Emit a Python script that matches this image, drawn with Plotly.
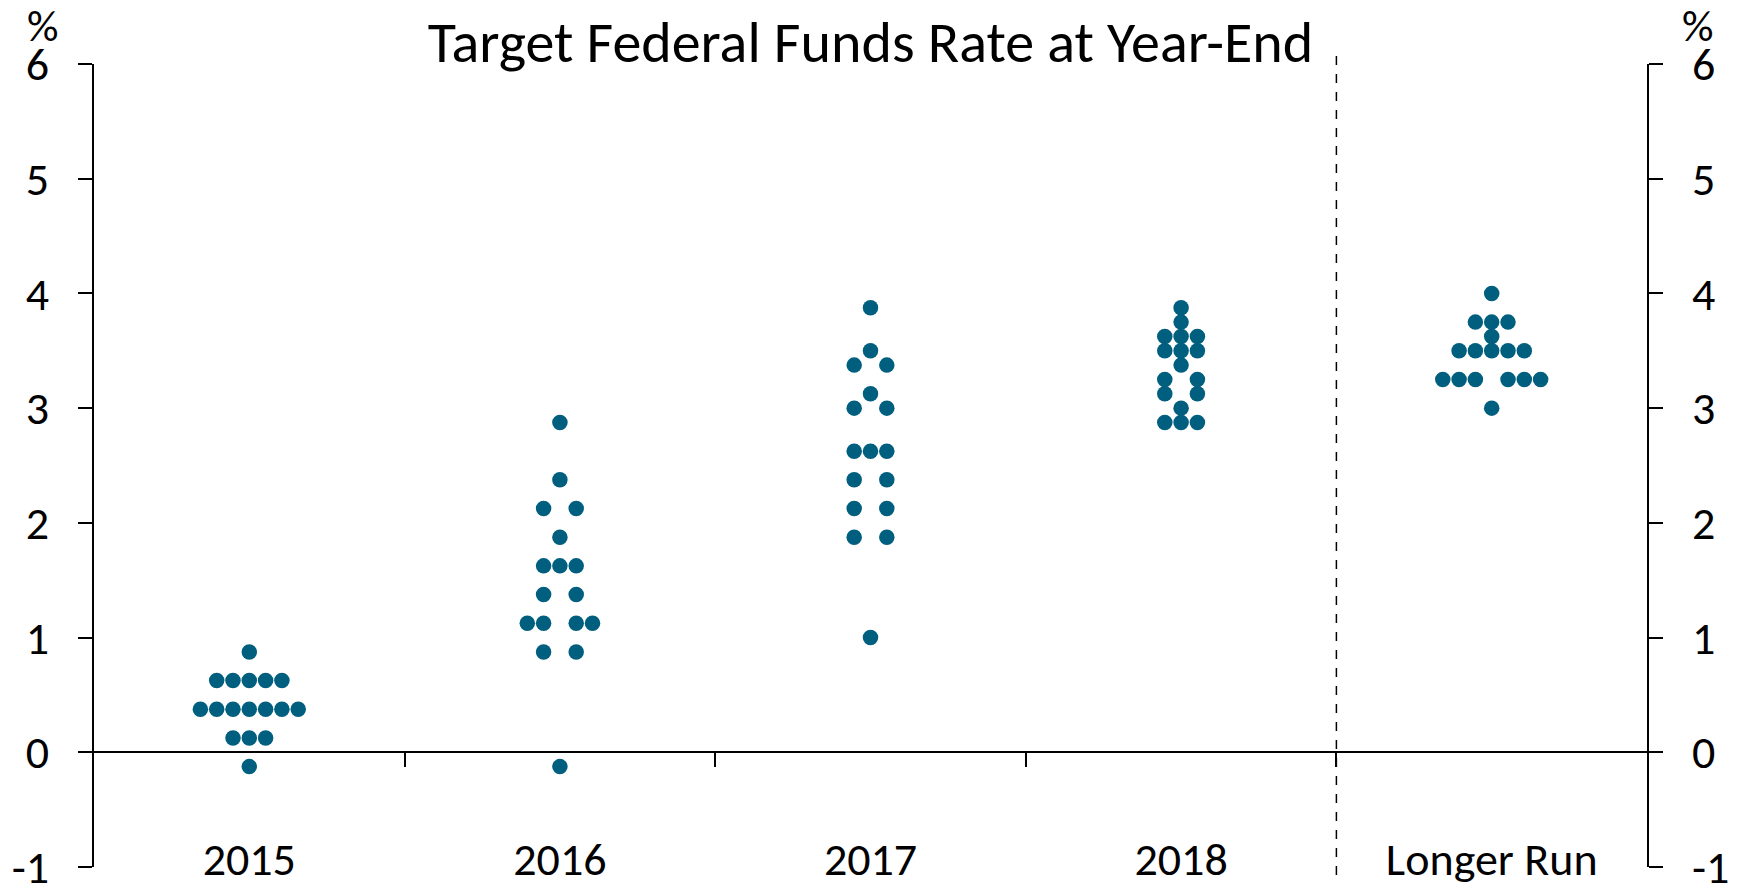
import plotly.graph_objects as go

# SEP dot plot, one dot per participant (17 per column)
categories = ["2015", "2016", "2017", "2018", "Longer Run"]

levels_2015 = [0.875, 0.625, 0.375, 0.125, -0.125]
counts_2015 = [1, 5, 7, 3, 1]

levels_2016 = [2.875, 2.375, 2.125, 1.875, 1.625, 1.375, 1.125, 0.875, -0.125]
counts_2016 = [1, 1, 2, 1, 3, 2, 4, 2, 1]

levels_2017 = [3.875, 3.5, 3.375, 3.125, 3.0, 2.625, 2.375, 2.125, 1.875, 1.0]
counts_2017 = [1, 1, 2, 1, 2, 3, 2, 2, 2, 1]

levels_2018 = [3.875, 3.75, 3.625, 3.5, 3.375, 3.25, 3.125, 3.0, 2.875]
counts_2018 = [1, 1, 3, 3, 1, 2, 2, 1, 3]

levels_lr = [4.0, 3.75, 3.625, 3.5, 3.25, 3.0]
counts_lr = [1, 3, 1, 5, 6, 1]

columns = [(levels_2015, counts_2015), (levels_2016, counts_2016),
           (levels_2017, counts_2017), (levels_2018, counts_2018),
           (levels_lr, counts_lr)]

y_ticks = [-1, 0, 1, 2, 3, 4, 5, 6]
y_labels = ["-1", "0", "1", "2", "3", "4", "5", "6"]

DOT = "#005E7E"
FONT = "Carlito, Calibri, Lato, sans-serif"
STEP = 0.0525  # horizontal gap between dots, in category widths


def slots(n):
    # odd counts are centred, even counts leave the centre slot empty
    if n % 2:
        h = (n - 1) // 2
        return list(range(-h, h + 1))
    h = n // 2
    return list(range(-h, 0)) + list(range(1, h + 1))


xs, ys = [], []
for i, (levels, counts) in enumerate(columns):
    for lv, n in zip(levels, counts):
        for s in slots(n):
            xs.append(i + 0.5 + s * STEP)
            ys.append(lv)

fig = go.Figure()
fig.add_trace(go.Scatter(x=xs, y=ys, mode="markers", xaxis="x", yaxis="y",
                         marker=dict(size=15.5, color=DOT), hoverinfo="y",
                         showlegend=False))
# invisible trace to activate the label axis and right axis
fig.add_trace(go.Scatter(x=[0.5], y=[0], xaxis="x2", yaxis="y2", mode="markers",
                         marker=dict(opacity=0), showlegend=False, hoverinfo="skip"))

n_cat = len(categories)
yax = dict(range=[-1, 6], tickmode="array", tickvals=y_ticks, ticktext=y_labels,
           showgrid=False, zeroline=False, showline=True, automargin=False,
           linecolor="black", linewidth=1.5, ticks="outside", ticklen=14,
           tickwidth=1.5, tickcolor="black", ticklabelstandoff=20,
           ticklabeloverflow="allow",
           tickfont=dict(family=FONT, size=46))

fig.update_layout(
    width=1743, height=884,
    margin=dict(l=94, r=96, t=64, b=17, autoexpand=False),
    paper_bgcolor="white", plot_bgcolor="white",
    font=dict(family=FONT, size=46, color="black"),
    title=dict(text="Target Federal Funds Rate at Year-End", x=0.5, xref="paper",
               y=1 - 42 / 884, yanchor="middle", xanchor="center",
               font=dict(family=FONT, size=58, color="black")),
    xaxis=dict(range=[0, n_cat], showgrid=False, zeroline=False, automargin=False,
               showline=True, linecolor="black", linewidth=1.5,
               anchor="free", position=1 / 7,
               tickmode="array", tickvals=list(range(1, n_cat)),
               ticks="outside", ticklen=14, tickwidth=1.5, tickcolor="black",
               showticklabels=False),
    xaxis2=dict(range=[0, n_cat], overlaying="x", anchor="free", position=0.049,
                showgrid=False, zeroline=False, showline=False, ticks="",
                automargin=False, ticklabeloverflow="allow",
                tickmode="array", tickvals=[i + 0.5 for i in range(n_cat)],
                ticktext=categories, tickfont=dict(family=FONT, size=46)),
    yaxis=yax,
    yaxis2=dict(yax, overlaying="y", side="right", anchor="x"),
)

# dashed divider before the longer-run column
fig.add_shape(type="line", xref="x", yref="paper", x0=n_cat - 1, x1=n_cat - 1,
              y0=-0.01, y1=1.015, line=dict(color="black", width=1.5, dash="dash"))

for xp in [-0.0332, 1.0325]:
    fig.add_annotation(text="%", xref="paper", yref="paper", x=xp, y=1.047,
                       xanchor="center", yanchor="middle", showarrow=False,
                       font=dict(family=FONT, size=44, color="black"))

fig.write_html("out.html", config={"displayModeBar": False},
               post_script="document.body.style.margin='0';")
